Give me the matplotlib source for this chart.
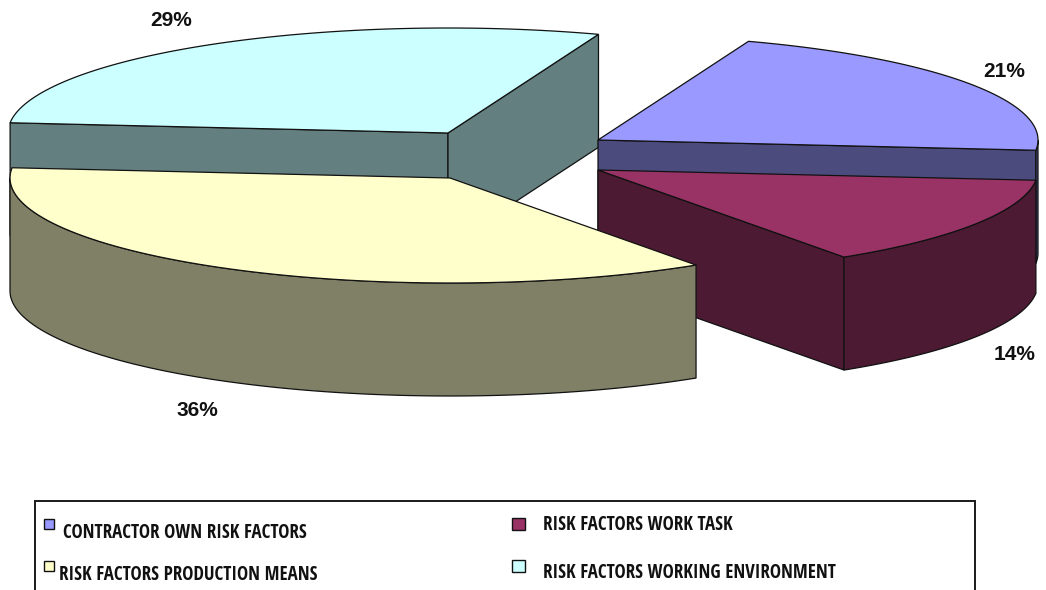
import numpy as np
import matplotlib
matplotlib.use("Agg")
import matplotlib.pyplot as plt
from matplotlib.patches import Polygon, Rectangle

# ---- data ----
categories = ["CONTRACTOR OWN RISK FACTORS", "RISK FACTORS WORK TASK",
              "RISK FACTORS PRODUCTION MEANS", "RISK FACTORS WORKING ENVIRONMENT"]
shares = [21, 14, 36, 29]
pct_labels = ["21%", "14%", "36%", "29%"]

# ---- style ----
top_colors = ["#9999FF", "#993366", "#FFFFCC", "#CCFFFF"]
side_colors = ["#4B4B7E", "#4C1A33", "#808066", "#637F7F"]

W, H = 1046, 590
fig = plt.figure(figsize=(W / 100, H / 100), dpi=100)
ax = fig.add_axes([0, 0, 1, 1])
ax.set_xlim(0, W)
ax.set_ylim(H, 0)
ax.axis("off")

CX, CY = 523, 155        # pie centre (pixels)
A, B = 440, 105          # ellipse half axes
T = 113                  # thickness
START = 70.0             # start angle (deg), clockwise
explode = [(75, -15), (75, 15), (-73, 23), (-75, -22)]
label_nudge = [(-3, -1), (1, -3), (-5, 0), (-19, -3)]
EC = "#111111"
LW = 0.9


def pt(cx, cy, th, dz=0.0):
    r = np.radians(th)
    return cx + A * np.cos(r), cy - B * np.sin(r) + dz


def arc(cx, cy, a, b, dz=0.0, n=80):
    ths = np.linspace(a, b, n)
    return [pt(cx, cy, t, dz) for t in ths]


total = float(sum(shares))
slices = []
cum = 0.0
for i, s in enumerate(shares):
    hi = START - 360.0 * cum / total
    lo = hi - 360.0 * s / total
    cum += s
    slices.append((i, lo, hi))

# draw back slices first
order = sorted(slices, key=lambda t: -np.sin(np.radians((t[1] + t[2]) / 2)))

for i, lo, hi in order:
    cx, cy = CX + explode[i][0], CY + explode[i][1]
    sc, tc = side_colors[i], top_colors[i]
    # cut faces
    if np.cos(np.radians(hi)) < 0:
        p = pt(cx, cy, hi)
        poly = [(cx, cy), p, (p[0], p[1] + T), (cx, cy + T)]
        ax.add_patch(Polygon(poly, closed=True, fc=sc, ec=EC, lw=LW))
    if np.cos(np.radians(lo)) > 0:
        p = pt(cx, cy, lo)
        poly = [(cx, cy), p, (p[0], p[1] + T), (cx, cy + T)]
        ax.add_patch(Polygon(poly, closed=True, fc=sc, ec=EC, lw=LW))
    # outer wall (front part)
    for k in range(-2, 3):
        a = max(lo, k * 360 - 180)
        b = min(hi, k * 360)
        if b > a:
            poly = arc(cx, cy, a, b) + arc(cx, cy, b, a, dz=T)
            ax.add_patch(Polygon(poly, closed=True, fc=sc, ec=EC, lw=LW))
    # top face
    poly = [(cx, cy)] + arc(cx, cy, hi, lo)
    ax.add_patch(Polygon(poly, closed=True, fc=tc, ec=EC, lw=LW))

# percentage labels
for i, lo, hi in slices:
    cx, cy = CX + explode[i][0], CY + explode[i][1]
    mid = (lo + hi) / 2
    r = np.radians(mid)
    x = cx + 1.1 * A * np.cos(r) + label_nudge[i][0]
    y = cy - 1.25 * B * np.sin(r) + label_nudge[i][1]
    if np.sin(r) < 0:
        y += T + 5
    ax.text(x, y + 7.5, pct_labels[i], ha="center", va="baseline", fontsize=15,
            fontweight="bold", family=["Liberation Sans", "DejaVu Sans"], color="#111111")

# legend (manual box)
ax.add_patch(Rectangle((35, 501), 940, 100, fc="white", ec="#1a1a1a", lw=1.4))
markers = [(44, 519, 10, 10), (512, 518, 13, 12), (44, 561, 10, 10), (512, 560, 13, 12)]
texts = [(63, 538), (543, 530), (59, 580), (543, 578)]
for i in range(len(categories)):
    mx, my, mw, mh = markers[i]
    ax.add_patch(Rectangle((mx, my), mw, mh, fc=top_colors[i], ec="#111111", lw=1.0))
    tx, ty = texts[i]
    ax.text(tx, ty, categories[i], ha="left", va="baseline", fontsize=13.6,
            fontweight="bold", family=["Open Sans Condensed", "DejaVu Sans"],
            color="#111111")

fig.savefig("out.png", dpi=100)
